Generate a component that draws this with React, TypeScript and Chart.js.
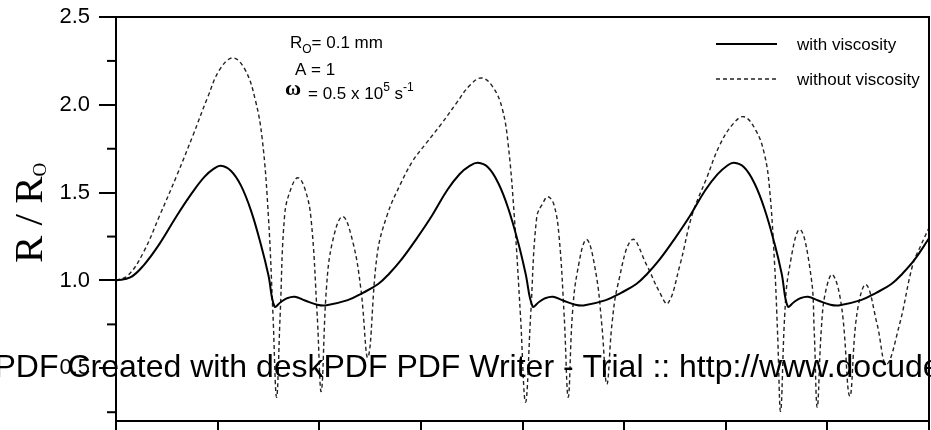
import React, { useEffect, useRef } from 'react';
import { Chart, registerables } from 'chart.js';

Chart.register(...registerables);

const W = 931;
const H = 430;

// ---- data ----
const withViscosityX = [0, 0.14, 0.27, 0.43, 0.6, 0.75, 0.87, 0.96, 1.03, 1.13, 1.23, 1.33, 1.43, 1.5, 1.56, 1.62, 1.68, 1.76, 1.86, 1.98, 2.06, 2.28, 2.43, 2.58, 2.69, 2.81, 2.96, 3.11, 3.26, 3.38, 3.48, 3.56, 3.66, 3.76, 3.86, 3.96, 4.03, 4.1, 4.16, 4.22, 4.3, 4.4, 4.52, 4.6, 4.82, 4.97, 5.12, 5.23, 5.35, 5.5, 5.65, 5.8, 5.92, 6.01, 6.08, 6.18, 6.28, 6.38, 6.48, 6.55, 6.61, 6.67, 6.73, 6.81, 6.91, 7.03, 7.11, 7.33, 7.48, 7.63, 7.74, 7.86, 8.0];
const withViscosityY = [1.0, 1.017, 1.085, 1.21, 1.37, 1.5, 1.59, 1.635, 1.653, 1.625, 1.54, 1.395, 1.195, 1.03, 0.852, 0.876, 0.898, 0.907, 0.886, 0.862, 0.858, 0.888, 0.93, 0.98, 1.04, 1.12, 1.24, 1.37, 1.515, 1.605, 1.652, 1.67, 1.645, 1.556, 1.41, 1.21, 1.04, 0.852, 0.876, 0.898, 0.907, 0.886, 0.862, 0.858, 0.888, 0.93, 0.98, 1.04, 1.12, 1.24, 1.37, 1.515, 1.605, 1.652, 1.67, 1.645, 1.556, 1.41, 1.21, 1.04, 0.852, 0.876, 0.898, 0.907, 0.886, 0.862, 0.858, 0.888, 0.93, 0.98, 1.04, 1.12, 1.24];

const withoutViscosityX = [0, 0.12, 0.27, 0.43, 0.6, 0.76, 0.9, 1.02, 1.15, 1.27, 1.37, 1.44, 1.5, 1.545, 1.58, 1.615, 1.66, 1.72, 1.79, 1.86, 1.92, 1.98, 2.02, 2.07, 2.13, 2.23, 2.33, 2.41, 2.48, 2.57, 2.67, 2.8, 2.92, 3.05, 3.2, 3.35, 3.48, 3.6, 3.71, 3.8, 3.86, 3.92, 3.98, 4.03, 4.08, 4.14, 4.2, 4.25, 4.31, 4.36, 4.41, 4.45, 4.49, 4.54, 4.63, 4.72, 4.78, 4.83, 4.88, 4.94, 5.08, 5.22, 5.35, 5.43, 5.55, 5.67, 5.81, 5.94, 6.07, 6.18, 6.3, 6.38, 6.43, 6.48, 6.51, 6.54, 6.58, 6.62, 6.73, 6.84, 6.87, 6.9, 6.94, 6.98, 7.05, 7.14, 7.22, 7.29, 7.38, 7.49, 7.58, 7.71, 7.84, 7.92, 8.0];
const withoutViscosityY = [1.0, 1.03, 1.16, 1.37, 1.6, 1.83, 2.04, 2.2, 2.267, 2.2, 2.03, 1.8, 1.36, 0.8, 0.335, 0.8, 1.375, 1.52, 1.585, 1.52, 1.347, 0.8, 0.369, 0.95, 1.22, 1.364, 1.22, 0.95, 0.563, 1.148, 1.375, 1.55, 1.68, 1.78, 1.89, 2.01, 2.11, 2.153, 2.1, 1.98, 1.77, 1.36, 0.8, 0.307, 0.8, 1.36, 1.44, 1.477, 1.43, 1.25, 0.8, 0.335, 0.8, 1.05, 1.233, 1.05, 0.75, 0.41, 0.75, 0.98, 1.233, 1.09, 0.932, 0.869, 1.09, 1.375, 1.58, 1.77, 1.89, 1.932, 1.85, 1.72, 1.53, 1.1, 0.7, 0.256, 0.8, 1.05, 1.29, 1.02, 0.72, 0.278, 0.72, 0.93, 1.034, 0.85, 0.341, 0.807, 0.977, 0.75, 0.523, 0.75, 1.09, 1.2, 1.3];

const xTickValues = [0, 1, 2, 3, 4, 5, 6, 7, 8];
const yTickValues = [0.25, 0.5, 0.75, 1.0, 1.25, 1.5, 1.75, 2.0, 2.25, 2.5];
const yMajorTicks = [0.5, 1.0, 1.5, 2.0, 2.5];
const seriesLabels = ['with viscosity', 'without viscosity'];
const watermarkText = 'PDF Created with deskPDF PDF Writer - Trial :: http://www.docudesk.com';

const SANS = '"Liberation Sans", Arial, Helvetica, sans-serif';
const SERIF = '"Liberation Serif", "Times New Roman", serif';

const isMajor = (v: number) => yMajorTicks.some((m) => Math.abs(m - v) < 1e-6);

type Run = { t: string; font: string; dy: number };
function drawRuns(ctx: CanvasRenderingContext2D, x: number, baseline: number, runs: Run[]) {
  let cx = x;
  for (const r of runs) {
    ctx.font = r.font;
    ctx.fillText(r.t, cx, baseline + r.dy);
    cx += ctx.measureText(r.t).width;
  }
}

const overlayPlugin = {
  id: 'overlay',
  afterDraw(chart: any) {
    const { ctx, chartArea: a, scales } = chart;
    const ys = scales.y;
    ctx.save();
    ctx.fillStyle = '#000';
    ctx.strokeStyle = '#000';

    // frame
    ctx.lineWidth = 2;
    ctx.setLineDash([]);
    ctx.strokeRect(a.left, a.top, a.right - a.left, a.bottom - a.top);

    // minor y ticks
    for (const v of yTickValues) {
      if (isMajor(v)) continue;
      const py = ys.getPixelForValue(v);
      ctx.beginPath();
      ctx.moveTo(a.left - 9, py);
      ctx.lineTo(a.left, py);
      ctx.stroke();
    }

    // legend
    const lx0 = a.left + 600;
    const lx1 = a.left + 661;
    const tx = a.left + 681;
    ctx.textBaseline = 'middle';
    ctx.textAlign = 'left';
    ctx.font = `17px ${SANS}`;
    ctx.lineWidth = 2;
    ctx.beginPath();
    ctx.moveTo(lx0, 44);
    ctx.lineTo(lx1, 44);
    ctx.stroke();
    ctx.fillText(seriesLabels[0], tx, 45);
    ctx.lineWidth = 1.4;
    ctx.strokeStyle = '#222';
    ctx.setLineDash([4, 3]);
    ctx.beginPath();
    ctx.moveTo(lx0, 79);
    ctx.lineTo(lx1, 79);
    ctx.stroke();
    ctx.setLineDash([]);
    ctx.strokeStyle = '#000';
    ctx.fillText(seriesLabels[1], tx, 80);

    // parameter annotation
    ctx.textBaseline = 'alphabetic';
    drawRuns(ctx, 290, 48, [
      { t: 'R', font: `17px ${SANS}`, dy: 0 },
      { t: 'O', font: `12px ${SANS}`, dy: 5 },
      { t: '= 0.1 mm', font: `17px ${SANS}`, dy: 0 },
    ]);
    drawRuns(ctx, 295, 75, [{ t: 'A = 1', font: `17px ${SANS}`, dy: 0 }]);
    drawRuns(ctx, 285, 95, [{ t: 'ω', font: `bold 22px ${SERIF}`, dy: 0 }]);
    drawRuns(ctx, 308, 99, [
      { t: '= 0.5 x 10', font: `17px ${SANS}`, dy: 0 },
      { t: '5', font: `12px ${SANS}`, dy: -8 },
      { t: ' s', font: `17px ${SANS}`, dy: 0 },
      { t: '-1', font: `12px ${SANS}`, dy: -8 },
    ]);

    // y axis title (rotated, reads bottom to top)
    const pieces: Run[] = [
      { t: 'R', font: `41px ${SERIF}`, dy: 0 },
      { t: ' / ', font: `41px ${SERIF}`, dy: 0 },
      { t: 'R', font: `41px ${SERIF}`, dy: 0 },
      { t: 'O', font: `19px ${SERIF}`, dy: 4 },
    ];
    ctx.save();
    ctx.translate(0, 263);
    ctx.rotate(-Math.PI / 2);
    drawRuns(ctx, 0, 42, pieces);
    ctx.restore();

    // watermark
    ctx.font = `32px ${SANS}`;
    ctx.textBaseline = 'alphabetic';
    ctx.fillText(watermarkText, -5.5, 377);

    ctx.restore();
  },
};

export default function App() {
  const ref = useRef<HTMLCanvasElement>(null);

  useEffect(() => {
    const canvas = ref.current;
    if (!canvas) return;
    const chart = new Chart(canvas, {
      type: 'line',
      data: {
        datasets: [
          {
            label: seriesLabels[0],
            data: withViscosityX.map((x, i) => ({ x, y: withViscosityY[i] })),
            borderColor: '#000',
            borderWidth: 2,
            pointRadius: 0,
            fill: false,
            tension: 0.4,
          },
          {
            label: seriesLabels[1],
            data: withoutViscosityX.map((x, i) => ({ x, y: withoutViscosityY[i] })),
            borderColor: '#222',
            borderWidth: 1.4,
            borderDash: [4, 3],
            pointRadius: 0,
            fill: false,
            tension: 0.4,
          },
        ],
      },
      options: {
        responsive: false,
        animation: false,
        devicePixelRatio: 1,
        layout: { padding: { top: 17, right: 2, left: 0, bottom: 0 } },
        plugins: { legend: { display: false }, tooltip: { enabled: false } },
        scales: {
          x: {
            type: 'linear',
            min: 0,
            max: 8,
            afterBuildTicks: (s: any) => {
              s.ticks = xTickValues.map((v) => ({ value: v }));
            },
            afterFit: (s: any) => {
              s.height = 9;
              s.paddingLeft = 0;
              s.paddingRight = 0;
              s.paddingTop = 0;
              s.paddingBottom = 0;
            },
            ticks: { display: false },
            grid: { drawOnChartArea: false, tickLength: 10, color: '#000', lineWidth: 2 },
            border: { color: '#000', width: 2 },
          },
          y: {
            type: 'linear',
            min: 0.2,
            max: 2.5,
            afterBuildTicks: (s: any) => {
              s.ticks = yTickValues.map((v) => ({ value: v }));
            },
            afterFit: (s: any) => {
              s.width = 116;
              s.paddingTop = 0;
              s.paddingBottom = 0;
              s.paddingLeft = 0;
              s.paddingRight = 0;
            },
            ticks: {
              callback: (v: any) => (isMajor(Number(v)) ? Number(v).toFixed(1) : ''),
              font: { family: SANS, size: 22 },
              color: '#000',
              padding: 9,
            },
            grid: {
              drawOnChartArea: false,
              tickLength: 17,
              lineWidth: 2,
              color: '#000',
              tickColor: (c: any) => (c.tick && isMajor(c.tick.value) ? '#000' : 'rgba(0,0,0,0)'),
            },
            border: { color: '#000', width: 2 },
          },
        },
      },
      plugins: [overlayPlugin],
    } as any);
    return () => chart.destroy();
  }, []);

  return (
    <div style={{ position: 'absolute', left: 0, top: 0, width: W, height: H, background: '#fff' }}>
      <canvas ref={ref} width={W} height={H} style={{ width: W, height: H, display: 'block' }} />
    </div>
  );
}
